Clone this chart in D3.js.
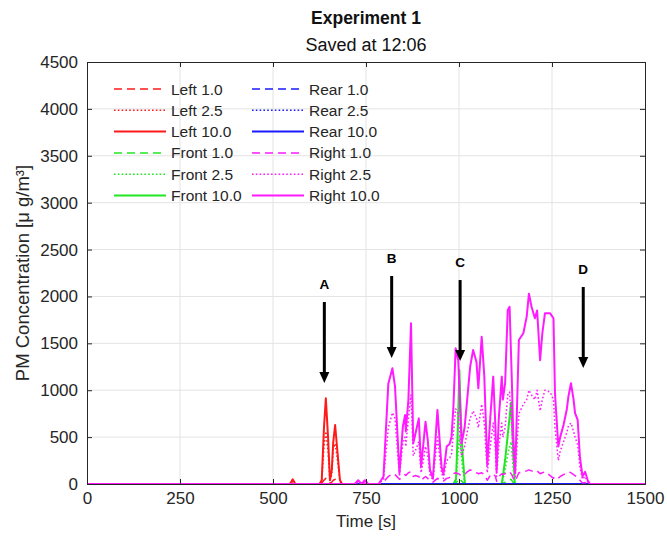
<!DOCTYPE html>
<html><head><meta charset="utf-8">
<script src="https://cdn.jsdelivr.net/npm/d3@7"></script>
<style>body{margin:0;background:#fff;} svg{display:block;font-family:"Liberation Sans",Arial,sans-serif;}</style>
</head><body><svg id="c" width="667" height="538"></svg>
<script>
// ---- data ----
const xTicks = [0, 250, 500, 750, 1000, 1250, 1500];
const yTicks = [0, 500, 1000, 1500, 2000, 2500, 3000, 3500, 4000, 4500];

const leftTime = [0, 545, 550, 553, 556, 560, 625, 631, 637, 642, 648, 653, 658, 662, 667, 672, 680, 686, 1500];
const left10  = [0, 0, 30, 50, 30, 0, 0, 40, 600, 914, 500, 40, 150, 450, 629, 400, 40, 0, 0];
const left25  = [0, 0, 15, 25, 15, 0, 0, 30, 400, 560, 350, 30, 100, 380, 430, 300, 30, 0, 0];
const left1   = [0, 0, 5, 10, 5, 0, 0, 10, 40, 60, 40, 10, 20, 40, 50, 30, 10, 0, 0];

const frontTime = [0, 985, 992, 997, 1001, 1005, 1010, 1016, 1115, 1124, 1133, 1140, 1145, 1150, 1500];
const front10 = [0, 0, 50, 600, 1216, 700, 300, 0, 0, 256, 600, 870, 400, 0, 0];
const front25 = [0, 0, 30, 300, 500, 350, 150, 0, 0, 150, 350, 450, 200, 0, 0];
const front1  = [0, 0, 10, 40, 60, 40, 20, 0, 0, 20, 40, 50, 20, 0, 0];

const rearTime = [0, 1500];
const rear10 = [0, 0];
const rear25 = [0, 0];
const rear1  = [0, 0];

const rightTime = [0, 720, 729, 738, 747, 756, 765, 784, 797, 810, 821, 828, 840, 849, 855, 857, 864, 871, 877, 882, 892, 898, 904, 910, 916, 922, 930, 942, 953, 958, 967, 975, 980, 985, 991, 998, 1007, 1015, 1022, 1030, 1038, 1047, 1052, 1061, 1068, 1076, 1084, 1092, 1098, 1101, 1107, 1115, 1118, 1124, 1131, 1136, 1142, 1146, 1151, 1161, 1173, 1182, 1188, 1195, 1204, 1210, 1218, 1224, 1231, 1245, 1254, 1258, 1267, 1272, 1281, 1290, 1294, 1301, 1308, 1312, 1319, 1325, 1332, 1339, 1346, 1352, 1500];
const right10 = [0, 0, 40, 0, 40, 0, 0, 0, 80, 1070, 1234, 1040, 115, 610, 735, 560, 900, 1714, 435, 520, 700, 185, 420, 665, 470, 150, 60, 790, 185, 100, 400, 430, 505, 825, 1447, 1320, 435, 600, 900, 1250, 1430, 1300, 1020, 1570, 1150, 200, 700, 1145, 600, 130, 700, 1145, 900, 1075, 1855, 1890, 1110, 500, 115, 1535, 1607, 1785, 2030, 1890, 1767, 1850, 1320, 1607, 1820, 1820, 1767, 967, 400, 500, 630, 800, 930, 1075, 900, 755, 683, 290, 80, 130, 40, 0, 0];
const right25 = [0, 0, 20, 0, 20, 0, 0, 0, 50, 600, 760, 700, 80, 450, 500, 400, 700, 950, 300, 350, 450, 120, 250, 400, 300, 100, 40, 500, 120, 60, 250, 280, 320, 550, 800, 750, 300, 400, 550, 700, 780, 700, 600, 850, 650, 120, 400, 650, 350, 80, 400, 650, 500, 600, 950, 980, 600, 300, 80, 750, 850, 900, 1000, 950, 900, 1000, 780, 900, 1000, 980, 900, 600, 250, 350, 450, 550, 620, 650, 560, 500, 420, 180, 50, 80, 20, 0, 0];
const right1  = [0, 0, 5, 0, 5, 0, 0, 0, 20, 80, 110, 100, 50, 80, 100, 90, 120, 130, 80, 90, 80, 40, 60, 80, 60, 30, 20, 60, 40, 30, 60, 70, 80, 110, 120, 110, 90, 100, 130, 150, 140, 120, 110, 120, 100, 40, 90, 110, 80, 30, 80, 110, 100, 110, 130, 130, 100, 60, 30, 120, 130, 140, 150, 140, 130, 140, 110, 120, 130, 90, 60, 80, 60, 80, 100, 120, 130, 120, 100, 90, 70, 40, 10, 15, 5, 0, 0];

const legendLabels = ["Left 1.0","Left 2.5","Left 10.0","Front 1.0","Front 2.5","Front 10.0",
                      "Rear 1.0","Rear 2.5","Rear 10.0","Right 1.0","Right 2.5","Right 10.0"];

const annotLabels = ["A", "B", "C", "D"];
const annotTime   = [638, 819, 1003, 1334];
const annotTop    = [1941, 2218, 2175, 2101];
const annotTip    = [1077, 1344, 1312, 1237];

// ---- styles ----
const colors = {Left:"#ff1a1a", Front:"#22e622", Rear:"#1a1aff", Right:"#ff1aff"};
const dashes = {"1.0":"8,5", "2.5":"1.6,2.2", "10.0":null};

const series = [
  {name:"Left 1.0", g:"Left", s:"1.0", t:leftTime, v:left1},
  {name:"Left 2.5", g:"Left", s:"2.5", t:leftTime, v:left25},
  {name:"Left 10.0", g:"Left", s:"10.0", t:leftTime, v:left10},
  {name:"Front 1.0", g:"Front", s:"1.0", t:frontTime, v:front1},
  {name:"Front 2.5", g:"Front", s:"2.5", t:frontTime, v:front25},
  {name:"Front 10.0", g:"Front", s:"10.0", t:frontTime, v:front10},
  {name:"Rear 1.0", g:"Rear", s:"1.0", t:rearTime, v:rear1},
  {name:"Rear 2.5", g:"Rear", s:"2.5", t:rearTime, v:rear25},
  {name:"Rear 10.0", g:"Rear", s:"10.0", t:rearTime, v:rear10},
  {name:"Right 1.0", g:"Right", s:"1.0", t:rightTime, v:right1},
  {name:"Right 2.5", g:"Right", s:"2.5", t:rightTime, v:right25},
  {name:"Right 10.0", g:"Right", s:"10.0", t:rightTime, v:right10}
];

// ---- layout ----
const svg = d3.select("#c");
const L = 87, R = 645, T = 62, B = 484;
const x = d3.scaleLinear().domain([0, 1500]).range([L, R]);
const y = d3.scaleLinear().domain([0, 4500]).range([B, T]);
const axisCol = "#262626";

// grid
const grid = svg.append("g");
grid.selectAll(".gx").data(xTicks.slice(1, -1)).join("line")
  .attr("x1", d => x(d)).attr("x2", d => x(d)).attr("y1", T).attr("y2", B)
  .attr("stroke", "#e3e3e3").attr("stroke-width", 1);
grid.selectAll(".gy").data(yTicks.slice(1, -1)).join("line")
  .attr("y1", d => y(d)).attr("y2", d => y(d)).attr("x1", L).attr("x2", R)
  .attr("stroke", "#e3e3e3").attr("stroke-width", 1);

// lines
svg.append("clipPath").attr("id", "clp").append("rect")
  .attr("x", L).attr("y", T).attr("width", R - L).attr("height", B - T + 1.5);
const lineGen = d3.line().x(d => x(d[0])).y(d => y(d[1]));
const lg = svg.append("g").attr("clip-path", "url(#clp)");
series.forEach(s => {
  const pts = s.t.map((t, i) => [t, s.v[i]]);
  lg.append("path").attr("d", lineGen(pts))
    .attr("fill", "none").attr("stroke", colors[s.g])
    .attr("stroke-width", s.s === "10.0" ? 2 : 1.5)
    .attr("stroke-linejoin", "round")
    .attr("stroke-dasharray", dashes[s.s]);
});

// axes
const fmt = d3.format("d");
const ax = svg.append("g").attr("transform", `translate(0,${B})`)
  .call(d3.axisBottom(x).tickValues(xTicks).tickFormat(fmt).tickSize(-5).tickPadding(8));
const axT = svg.append("g").attr("transform", `translate(0,${T})`)
  .call(d3.axisTop(x).tickValues(xTicks).tickFormat("").tickSize(-5));
const ay = svg.append("g").attr("transform", `translate(${L},0)`)
  .call(d3.axisLeft(y).tickValues(yTicks).tickFormat(fmt).tickSize(-5).tickPadding(9));
const ayR = svg.append("g").attr("transform", `translate(${R},0)`)
  .call(d3.axisRight(y).tickValues(yTicks).tickFormat("").tickSize(-5));
[ax, axT, ay, ayR].forEach(g => {
  g.selectAll("path").attr("stroke", axisCol).attr("stroke-width", 1);
  g.selectAll("line").attr("stroke", axisCol);
  g.selectAll("text").attr("fill", axisCol).style("font-size", "17px")
    .style("font-family", "'Liberation Sans',Arial,sans-serif");
});

// titles
svg.append("text").attr("x", (L + R) / 2).attr("y", 24).attr("text-anchor", "middle")
  .style("font-size", "17.5px").style("font-weight", "bold").attr("fill", "#111").text("Experiment 1");
svg.append("text").attr("x", (L + R) / 2).attr("y", 51).attr("text-anchor", "middle")
  .style("font-size", "18px").attr("fill", "#111").text("Saved at 12:06");
svg.append("text").attr("x", (L + R) / 2).attr("y", 527).attr("text-anchor", "middle")
  .style("font-size", "17px").attr("fill", axisCol).text("Time [s]");
svg.append("text").attr("transform", `translate(29,${(T + B) / 2}) rotate(-90)`)
  .attr("text-anchor", "middle").style("font-size", "18.5px").attr("fill", axisCol)
  .text("PM Concentration [\u03bc g/m\u00b3]");

// legend
const leg = svg.append("g");
series.forEach((s, i) => {
  const col = Math.floor(i / 6), row = i % 6;
  const lx = 114 + col * 138, ly = 89 + row * 21.3;
  leg.append("line").attr("x1", lx).attr("x2", lx + 52).attr("y1", ly).attr("y2", ly)
    .attr("stroke", colors[s.g]).attr("stroke-width", s.s === "10.0" ? 2 : 1.5)
    .attr("stroke-dasharray", dashes[s.s]);
  leg.append("text").attr("x", lx + 57).attr("y", ly + 5.5)
    .style("font-size", "15.5px").attr("fill", axisCol).text(legendLabels[i]);
});

// annotations
const an = svg.append("g");
annotLabels.forEach((lab, i) => {
  const ax0 = x(annotTime[i]), yTop = y(annotTop[i]), yTip = y(annotTip[i]);
  an.append("line").attr("x1", ax0).attr("x2", ax0).attr("y1", yTop).attr("y2", yTip - 9)
    .attr("stroke", "#000").attr("stroke-width", 3);
  an.append("path").attr("d", `M${ax0 - 5},${yTip - 11} L${ax0 + 5},${yTip - 11} L${ax0},${yTip} Z`)
    .attr("fill", "#000");
  an.append("text").attr("x", ax0).attr("y", yTop - 13).attr("text-anchor", "middle")
    .style("font-size", "13.5px").style("font-weight", "bold").attr("fill", "#000").text(lab);
});
</script></body></html>
